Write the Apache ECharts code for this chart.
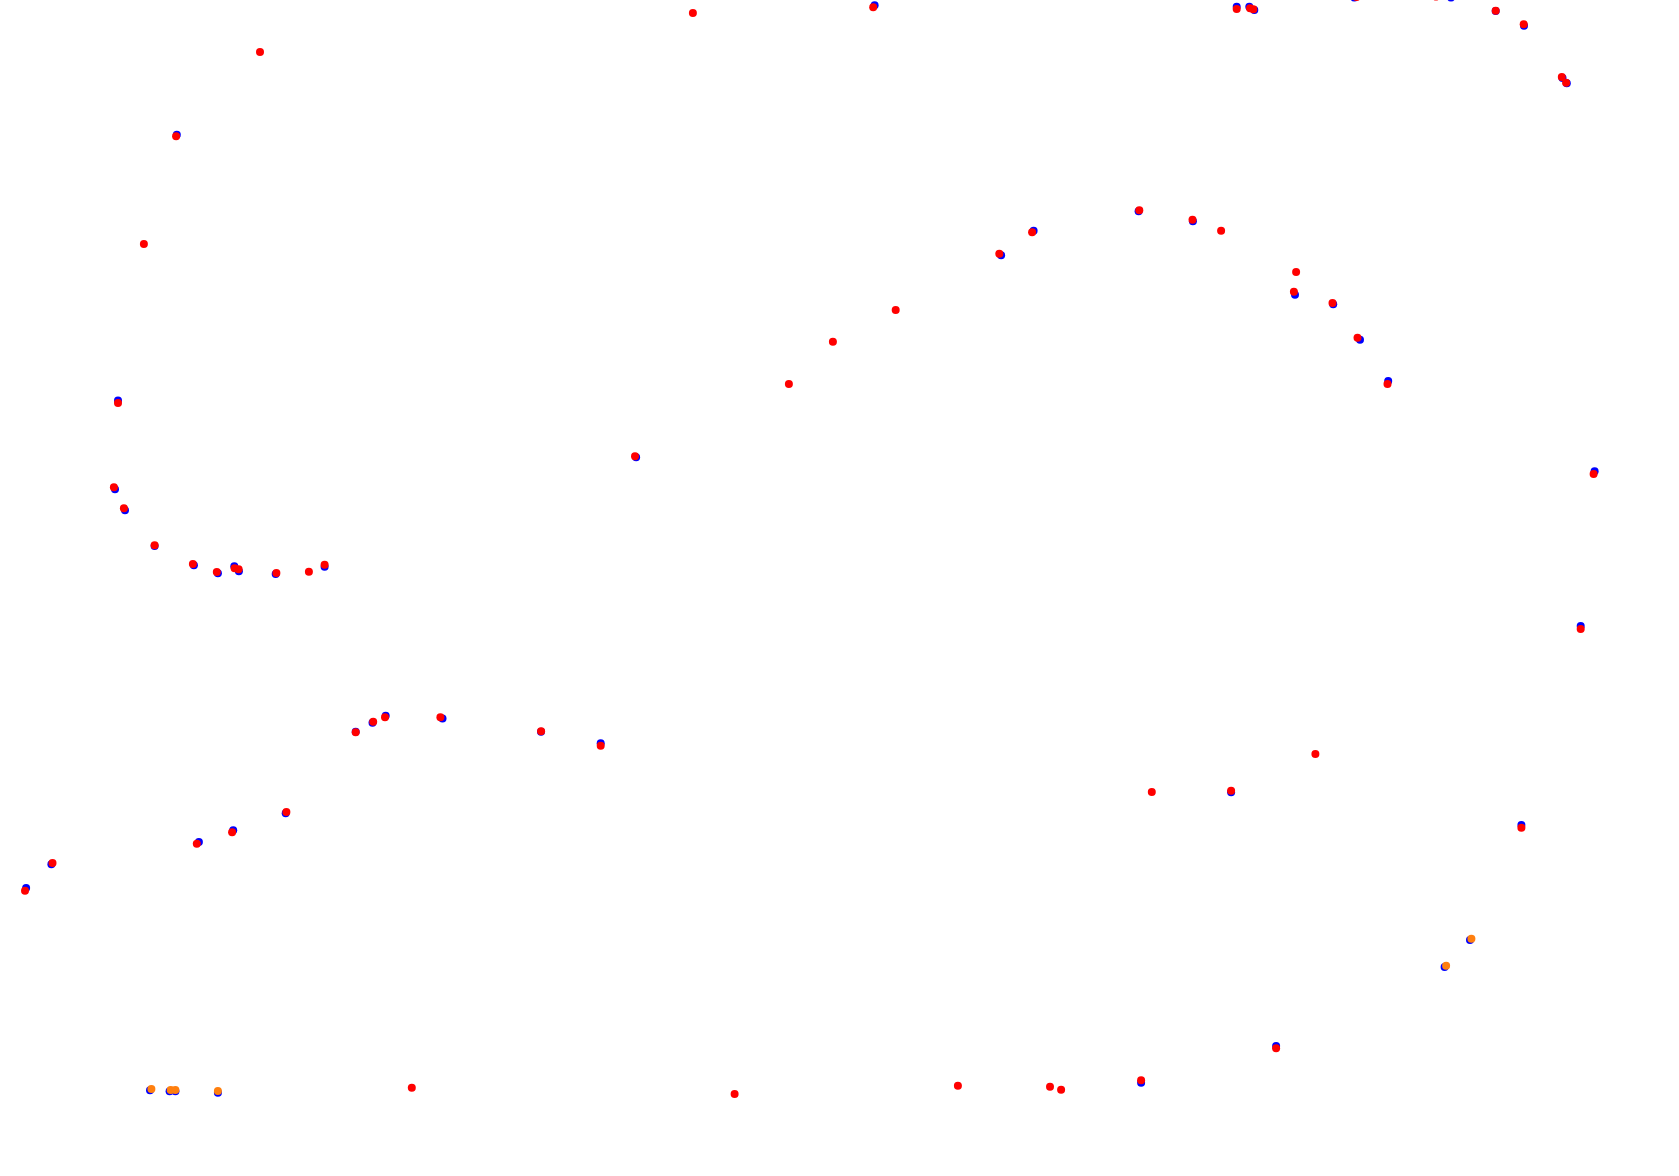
<!DOCTYPE html>
<html>
<head>
<meta charset="utf-8">
<script src="https://cdn.jsdelivr.net/npm/echarts@6/dist/echarts.min.js"></script>
<style>
html,body{margin:0;padding:0;background:#fff;}
#chart{width:1679px;height:1176px;}
</style>
</head>
<body>
<div id="chart"></div>
<script>
// Track-position samples (x, y in plot units; y grows downward)
const blueX = [176.8,118,115,125,154.6,193.9,217.9,234.3,238.9,275.7,324.6,355.7,372.5,385.7,442.5,541,874.6,1033.6,1001.1,636.1,600.7,1236.7,1249.3,1254.3,1354.3,1451,1495.7,1524,1562.5,1566.8,1138.6,1192.9,1295,1333.2,1360,1388.2,1594.6,1580.7,1231.1,285.7,233.2,198.9,51.4,26.1,150,169.6,175.4,217.9,1521.4,1470,1444.6,1276.1,1141.1];
const blueY = [134.7,400.5,489.3,510.3,546,565.3,573.3,566.3,571.3,574,566.7,731.7,722.7,715.7,718.5,731.8,5.3,230.7,255.3,457.3,743.3,6.7,6.7,10,-2.5,-2.5,11,25.7,78,83.3,211.3,221.3,294.7,304.3,339.7,381,471.3,626,792.3,813.3,830.3,842,864.3,888,1090.3,1091.3,1091.3,1092.7,825,940,967,1046,1082.7];

const redX = [260,176.1,143.9,118,113.9,123.9,154.6,192.9,216.8,234.6,238.6,276.4,308.9,324.6,355.7,373.2,385,440.4,541.1,692.9,873.2,1032.1,999.3,895.7,832.9,788.9,635,600.7,1236.7,1250,1253.3,1356.5,1436,1450,1495.7,1523.7,1561.8,1566.1,1139.3,1192.5,1221.1,1296.1,1293.9,1332.5,1357.5,1387.5,1593.6,1580.7,1315.4,1231.1,1151.8,286.4,232.1,196.8,52.5,25,411.8,734.6,957.9,1050,1061.1,1521.4,1276.1,1141.1];
const redY = [52,136.3,244,403,487.3,508.3,545.3,564,572,568.3,569.3,573,571.7,564.7,732.3,721.7,717.3,717.3,731.3,13,7.3,232.3,253.7,310,341.7,384,456.3,745.7,9,8.3,9.3,-3,-3.5,-4,10.7,24.3,77,82.7,210.3,219.7,230.7,272,291.7,303,337.7,384,474,629,754,790.7,792,812,832.3,843.7,863,890.7,1087.7,1094,1085.7,1086.7,1089.7,827.7,1048.3,1080.3];

const orangeX = [151.4,170.7,175.4,217.9,1471.4,1446.1];
const orangeY = [1089,1090,1090,1091,938.7,965.7];

function pairs(xs, ys){ return xs.map((x,i)=>[x, ys[i]]); }

const chart = echarts.init(document.getElementById('chart'), null, {renderer:'canvas'});
chart.setOption({
  animation: false,
  backgroundColor: '#ffffff',
  grid: {left: 0, right: 0, top: 0, bottom: 0},
  xAxis: {type: 'value', min: 0, max: 1679, show: false},
  yAxis: {type: 'value', min: 0, max: 1176, inverse: true, show: false},
  series: [
    {type: 'scatter', name: 'blue', data: pairs(blueX, blueY), symbolSize: 8, clip: false,
     itemStyle: {color: '#0000ff', opacity: 1}},
    {type: 'scatter', name: 'red', data: pairs(redX, redY), symbolSize: 8, clip: false,
     itemStyle: {color: '#ff0000', opacity: 1}},
    {type: 'scatter', name: 'orange', data: pairs(orangeX, orangeY), symbolSize: 8, clip: false,
     itemStyle: {color: '#ff7f0e', opacity: 1}}
  ]
});
</script>
</body>
</html>
